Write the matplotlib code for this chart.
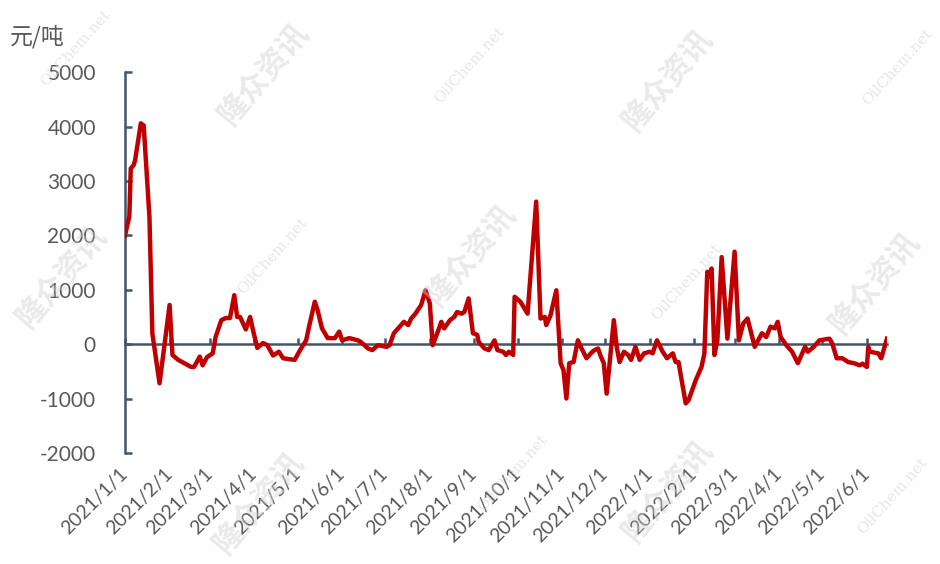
import matplotlib
matplotlib.use("Agg")
import matplotlib.pyplot as plt
import matplotlib.dates as mdates
import numpy as np
import pandas as pd

# ---- data ----
dates = (
    ["2021-01-01", "2021-01-04", "2021-01-05", "2021-01-07", "2021-01-08", "2021-01-12", "2021-01-14",
     "2021-01-18", "2021-01-20", "2021-01-25", "2021-01-28"]
    + ["2021-02-01", "2021-02-03", "2021-02-07", "2021-02-16", "2021-02-18", "2021-02-22", "2021-02-24", "2021-02-27"]
    + ["2021-03-03", "2021-03-05", "2021-03-09", "2021-03-12", "2021-03-15", "2021-03-18", "2021-03-20",
       "2021-03-22", "2021-03-26", "2021-03-29", "2021-03-31"]
    + ["2021-04-03", "2021-04-07", "2021-04-10", "2021-04-14", "2021-04-18", "2021-04-21", "2021-04-29"]
    + ["2021-05-03", "2021-05-07", "2021-05-09", "2021-05-13", "2021-05-15", "2021-05-18", "2021-05-22",
       "2021-05-27", "2021-05-30"]
    + ["2021-06-01", "2021-06-06", "2021-06-12", "2021-06-14", "2021-06-19", "2021-06-22", "2021-06-26", "2021-06-28"]
    + ["2021-07-02", "2021-07-04", "2021-07-07", "2021-07-11", "2021-07-14", "2021-07-17", "2021-07-19",
       "2021-07-22", "2021-07-26", "2021-07-29"]
    + ["2021-08-01", "2021-08-03", "2021-08-07", "2021-08-09", "2021-08-11", "2021-08-15", "2021-08-18",
       "2021-08-20", "2021-08-23", "2021-08-25", "2021-08-28", "2021-08-31"]
    + ["2021-09-03", "2021-09-04", "2021-09-08", "2021-09-11", "2021-09-15", "2021-09-17", "2021-09-21",
       "2021-09-23", "2021-09-25", "2021-09-28", "2021-09-29"]
    + ["2021-10-03", "2021-10-08", "2021-10-11", "2021-10-14", "2021-10-17", "2021-10-20", "2021-10-21",
       "2021-10-24", "2021-10-25", "2021-10-28", "2021-10-31"]
    + ["2021-11-02", "2021-11-04", "2021-11-06", "2021-11-09", "2021-11-12", "2021-11-14", "2021-11-18",
       "2021-11-21", "2021-11-23", "2021-11-26", "2021-11-28", "2021-11-30"]
    + ["2021-12-02", "2021-12-07", "2021-12-09", "2021-12-11", "2021-12-14", "2021-12-17", "2021-12-19",
       "2021-12-22", "2021-12-25", "2021-12-28"]
    + ["2022-01-01", "2022-01-03", "2022-01-06", "2022-01-10", "2022-01-13", "2022-01-17", "2022-01-19",
       "2022-01-21", "2022-01-26", "2022-01-28"]
    + ["2022-02-02", "2022-02-06", "2022-02-08", "2022-02-10", "2022-02-11", "2022-02-13", "2022-02-15",
       "2022-02-17", "2022-02-20", "2022-02-24"]
    + ["2022-03-01", "2022-03-04", "2022-03-07", "2022-03-10", "2022-03-15", "2022-03-20", "2022-03-23",
       "2022-03-26", "2022-03-29", "2022-03-31"]
    + ["2022-04-02", "2022-04-06", "2022-04-10", "2022-04-14", "2022-04-19", "2022-04-21", "2022-04-25", "2022-04-29"]
    + ["2022-05-06", "2022-05-08", "2022-05-11", "2022-05-15", "2022-05-19", "2022-05-23", "2022-05-27", "2022-05-29"]
    + ["2022-06-01", "2022-06-02", "2022-06-03", "2022-06-09", "2022-06-11", "2022-06-15"]
)

values = (
    [2000, 2350, 3230, 3290, 3380, 4060, 4020, 2330, 200, -720, -110]
    + [720, -200, -290, -420, -420, -230, -390, -240]
    + [-170, 130, 440, 480, 480, 900, 500, 500, 270, 500, 260]
    + [-70, 20, -20, -210, -140, -260, -290]
    + [-100, 70, 320, 780, 620, 290, 110, 110, 230]
    + [70, 110, 70, 40, -80, -110, -20, -30]
    + [-50, -20, 200, 320, 410, 350, 470, 560, 720, 990]
    + [750, -20, 260, 410, 290, 440, 500, 590, 560, 590, 840, 200]
    + [170, 40, -80, -110, 70, -110, -140, -200, -140, -200, 870]
    + [780, 560, 1600, 2620, 470, 500, 350, 530, 650, 990, -350]
    + [-480, -1000, -350, -330, 70, -50, -260, -170, -120, -80, -230, -350]
    + [-910, 440, -50, -330, -140, -200, -290, -50, -290, -170]
    + [-140, -170, 70, -140, -260, -170, -330, -330, -1090, -1030]
    + [-660, -420, -170, 1330, 1240, 1390, -200, 70, 1600, 100]
    + [1700, 70, 380, 470, -50, 200, 130, 320, 290, 410]
    + [130, -20, -140, -350, -50, -140, -50, 70]
    + [100, 10, -260, -260, -330, -350, -390, -360]
    + [-420, -50, -140, -170, -260, 100]
)

tick_dates = ["2021-01-01", "2021-02-01", "2021-03-01", "2021-04-01", "2021-05-01", "2021-06-01",
              "2021-07-01", "2021-08-01", "2021-09-01", "2021-10-01", "2021-11-01", "2021-12-01",
              "2022-01-01", "2022-02-01", "2022-03-01", "2022-04-01", "2022-05-01", "2022-06-01"]
tick_labels = ["2021/1/1", "2021/2/1", "2021/3/1", "2021/4/1", "2021/5/1", "2021/6/1",
               "2021/7/1", "2021/8/1", "2021/9/1", "2021/10/1", "2021/11/1", "2021/12/1",
               "2022/1/1", "2022/2/1", "2022/3/1", "2022/4/1", "2022/5/1", "2022/6/1"]
y_ticks = [-2000, -1000, 0, 1000, 2000, 3000, 4000, 5000]
unit_label = "元/吨"

# ---- drawing ----
plt.rcParams['font.family'] = ['Lato', 'Noto Sans CJK SC', 'DejaVu Sans']

x = pd.to_datetime(dates)
fig = plt.figure(figsize=(9.4, 5.64), dpi=100)
ax = fig.add_axes([0.133, 0.197, 0.8106, 0.675])

axis_col = '#44546A'
text_col = '#595959'

ax.plot(x, values, color='#C00000', lw=3.2, solid_joinstyle='round', zorder=3)

ax.set_xlim(pd.Timestamp("2021-01-01"), pd.Timestamp("2022-06-15"))
ax.set_ylim(-2000, 5000)

for s in ['top', 'right']:
    ax.spines[s].set_visible(False)
ax.spines['left'].set_color(axis_col)
ax.spines['left'].set_linewidth(1.8)
ax.spines['bottom'].set_position(('data', 0))
ax.spines['bottom'].set_color(axis_col)
ax.spines['bottom'].set_linewidth(1.8)
ax.spines['bottom'].set_zorder(2)

ax.set_yticks(y_ticks)
ax.set_yticklabels([str(v) for v in y_ticks])
ax.tick_params(axis='y', direction='in', length=5, width=1.8, color=axis_col,
               labelsize=15, labelcolor=text_col, pad=21)

tx = pd.to_datetime(tick_dates)
ax.set_xticks(tx)
ax.tick_params(axis='x', direction='in', length=4, width=1.8, color=axis_col, labelbottom=False)

sec = ax.secondary_xaxis(0.0)
sec.set_xticks(tx)
sec.set_xticklabels(tick_labels, rotation=45, ha='right', va='center', rotation_mode='anchor')
sec.tick_params(axis='x', length=0, labelsize=14, labelcolor=text_col, pad=13)
sec.spines['bottom'].set_visible(False)

fig.text(0.011, 0.935, unit_label, fontsize=16.5, color=text_col,
         family=['Noto Sans CJK SC', 'DejaVu Sans'], ha='left', va='center')

# watermarks
wm_cn = [(0.28, 0.87), (0.71, 0.86), (0.065, 0.51), (0.50, 0.55), (0.93, 0.50), (0.275, 0.11), (0.71, 0.13)]
wm_en = [(0.08, 0.915), (0.50, 0.885), (0.955, 0.88), (0.29, 0.545), (0.73, 0.50), (0.545, 0.16), (0.95, 0.12)]
for (px, py) in wm_cn:
    fig.text(px, py, "隆众资讯", fontsize=22, fontweight='bold', color='#d0d0d0', alpha=0.45,
             rotation=50, ha='center', va='center', family=['Noto Sans CJK SC'], zorder=0)
for (px, py) in wm_en:
    fig.text(px, py, "OilChem.net", fontsize=11, color='#d0d0d0', alpha=0.5,
             rotation=48, ha='center', va='center', family=['DejaVu Serif'], zorder=0)

fig.savefig("out.png", dpi=100)
